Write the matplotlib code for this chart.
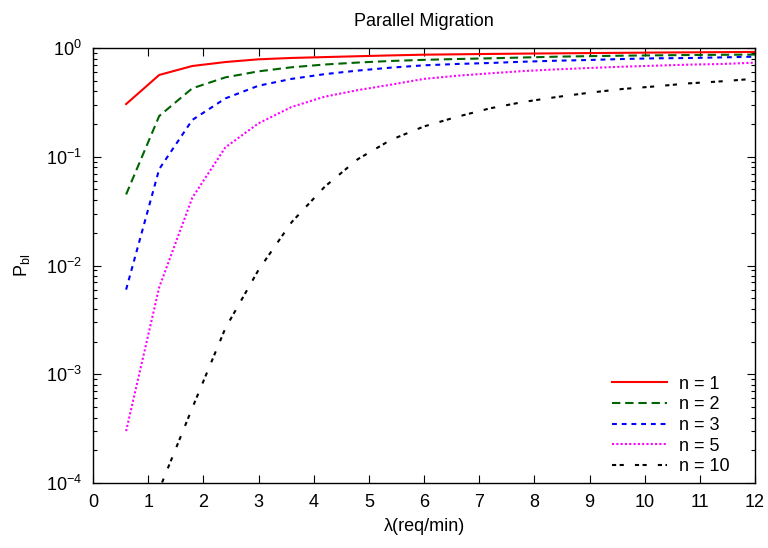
import matplotlib
matplotlib.use("Agg")
import matplotlib.pyplot as plt
from matplotlib.ticker import LogLocator, FixedLocator, NullFormatter

plt.rcParams['font.family'] = ['Liberation Sans', 'DejaVu Sans']
plt.rcParams['mathtext.default'] = 'regular'
plt.rcParams['lines.scale_dashes'] = False

lam = [0.6, 1.2, 1.8, 2.4, 3.0, 3.6, 4.2, 4.8, 5.4, 6.0,
       6.6, 7.2, 7.8, 8.4, 9.0, 9.6, 10.2, 10.8, 11.4, 12.0]

p_n1 = [0.305, 0.565, 0.683, 0.743, 0.787, 0.81, 0.825, 0.84, 0.855, 0.868,
        0.875, 0.882, 0.888, 0.893, 0.898, 0.903, 0.908, 0.912, 0.916, 0.92]
p_n2 = [0.045, 0.237, 0.426, 0.537, 0.61, 0.665, 0.705, 0.735, 0.76, 0.778,
        0.792, 0.804, 0.818, 0.832, 0.842, 0.85, 0.856, 0.862, 0.866, 0.87]
p_n3 = [0.006, 0.077, 0.218, 0.344, 0.45, 0.52, 0.575, 0.62, 0.66, 0.693,
        0.713, 0.728, 0.748, 0.764, 0.776, 0.792, 0.804, 0.809, 0.82, 0.832]
p_n5 = [0.0003, 0.0063, 0.042, 0.122, 0.203, 0.287, 0.357, 0.41, 0.46, 0.52,
        0.556, 0.585, 0.614, 0.636, 0.655, 0.673, 0.688, 0.703, 0.713, 0.733]
lam_n10 = lam[1:]
p_n10 = [8.7e-5, 0.00049, 0.00265, 0.0091, 0.025, 0.053, 0.095, 0.143, 0.19,
         0.233, 0.279, 0.319, 0.354, 0.388, 0.42, 0.444, 0.473, 0.494, 0.522]

labels = ['n = 1', 'n = 2', 'n = 3', 'n = 5', 'n = 10']
x_ticks = list(range(0, 13))
y_ticks = [1e-4, 1e-3, 1e-2, 1e-1, 1e0]
y_tick_labels = ['10$^{-4}$', '10$^{-3}$', '10$^{-2}$', '10$^{-1}$', '10$^{0}$']

fig = plt.figure(figsize=(7.68, 5.48), dpi=100)
ax = fig.add_axes([93/768, 1-483/548, (755-93)/768, (483-48)/548])

lw = 1.5
ax.plot(lam, p_n1, color='#ff0000', lw=lw, label=labels[0])
ax.plot(lam, p_n2, color='#006400', lw=lw, dashes=(6, 3.5), label=labels[1])
ax.plot(lam, p_n3, color='#0000ff', lw=lw, dashes=(3.5, 3.5), label=labels[2])
ax.plot(lam, p_n5, color='#ff00ff', lw=lw, dashes=(1.5, 1.6), label=labels[3])
ax.plot(lam_n10, p_n10, color='#000000', lw=lw, dashes=(3, 2.5, 3, 8), label=labels[4])

ax.set_yscale('log')
ax.set_xlim(0, 12)
ax.set_ylim(1e-4, 1)
ax.xaxis.set_major_locator(FixedLocator(x_ticks))
ax.set_xticklabels([str(t) for t in x_ticks])
ax.yaxis.set_major_locator(FixedLocator(y_ticks))
ax.set_yticklabels(y_tick_labels)
ax.yaxis.set_minor_locator(LogLocator(base=10, subs=range(2, 10), numticks=20))
ax.yaxis.set_minor_formatter(NullFormatter())

ax.tick_params(which='both', direction='in', top=True, right=True, labelsize=13, width=0.8)
ax.tick_params(which='major', length=6, pad=8)
ax.tick_params(which='minor', length=3)
for s in ax.spines.values():
    s.set_linewidth(1.0)

ax.set_title('Parallel Migration', fontsize=13, pad=16)
ax.set_xlabel('λ(req/min)', fontsize=13, labelpad=5)
ax.set_ylabel('P$_{bl}$', fontsize=13, labelpad=10)

leg = ax.legend(loc='lower right', bbox_to_anchor=(0.962, 0.018), frameon=False,
                fontsize=13, handlelength=3.0, handletextpad=0.7, labelspacing=0.2,
                borderaxespad=0.0, borderpad=0.0)

fig.savefig('out.png', dpi=100)
